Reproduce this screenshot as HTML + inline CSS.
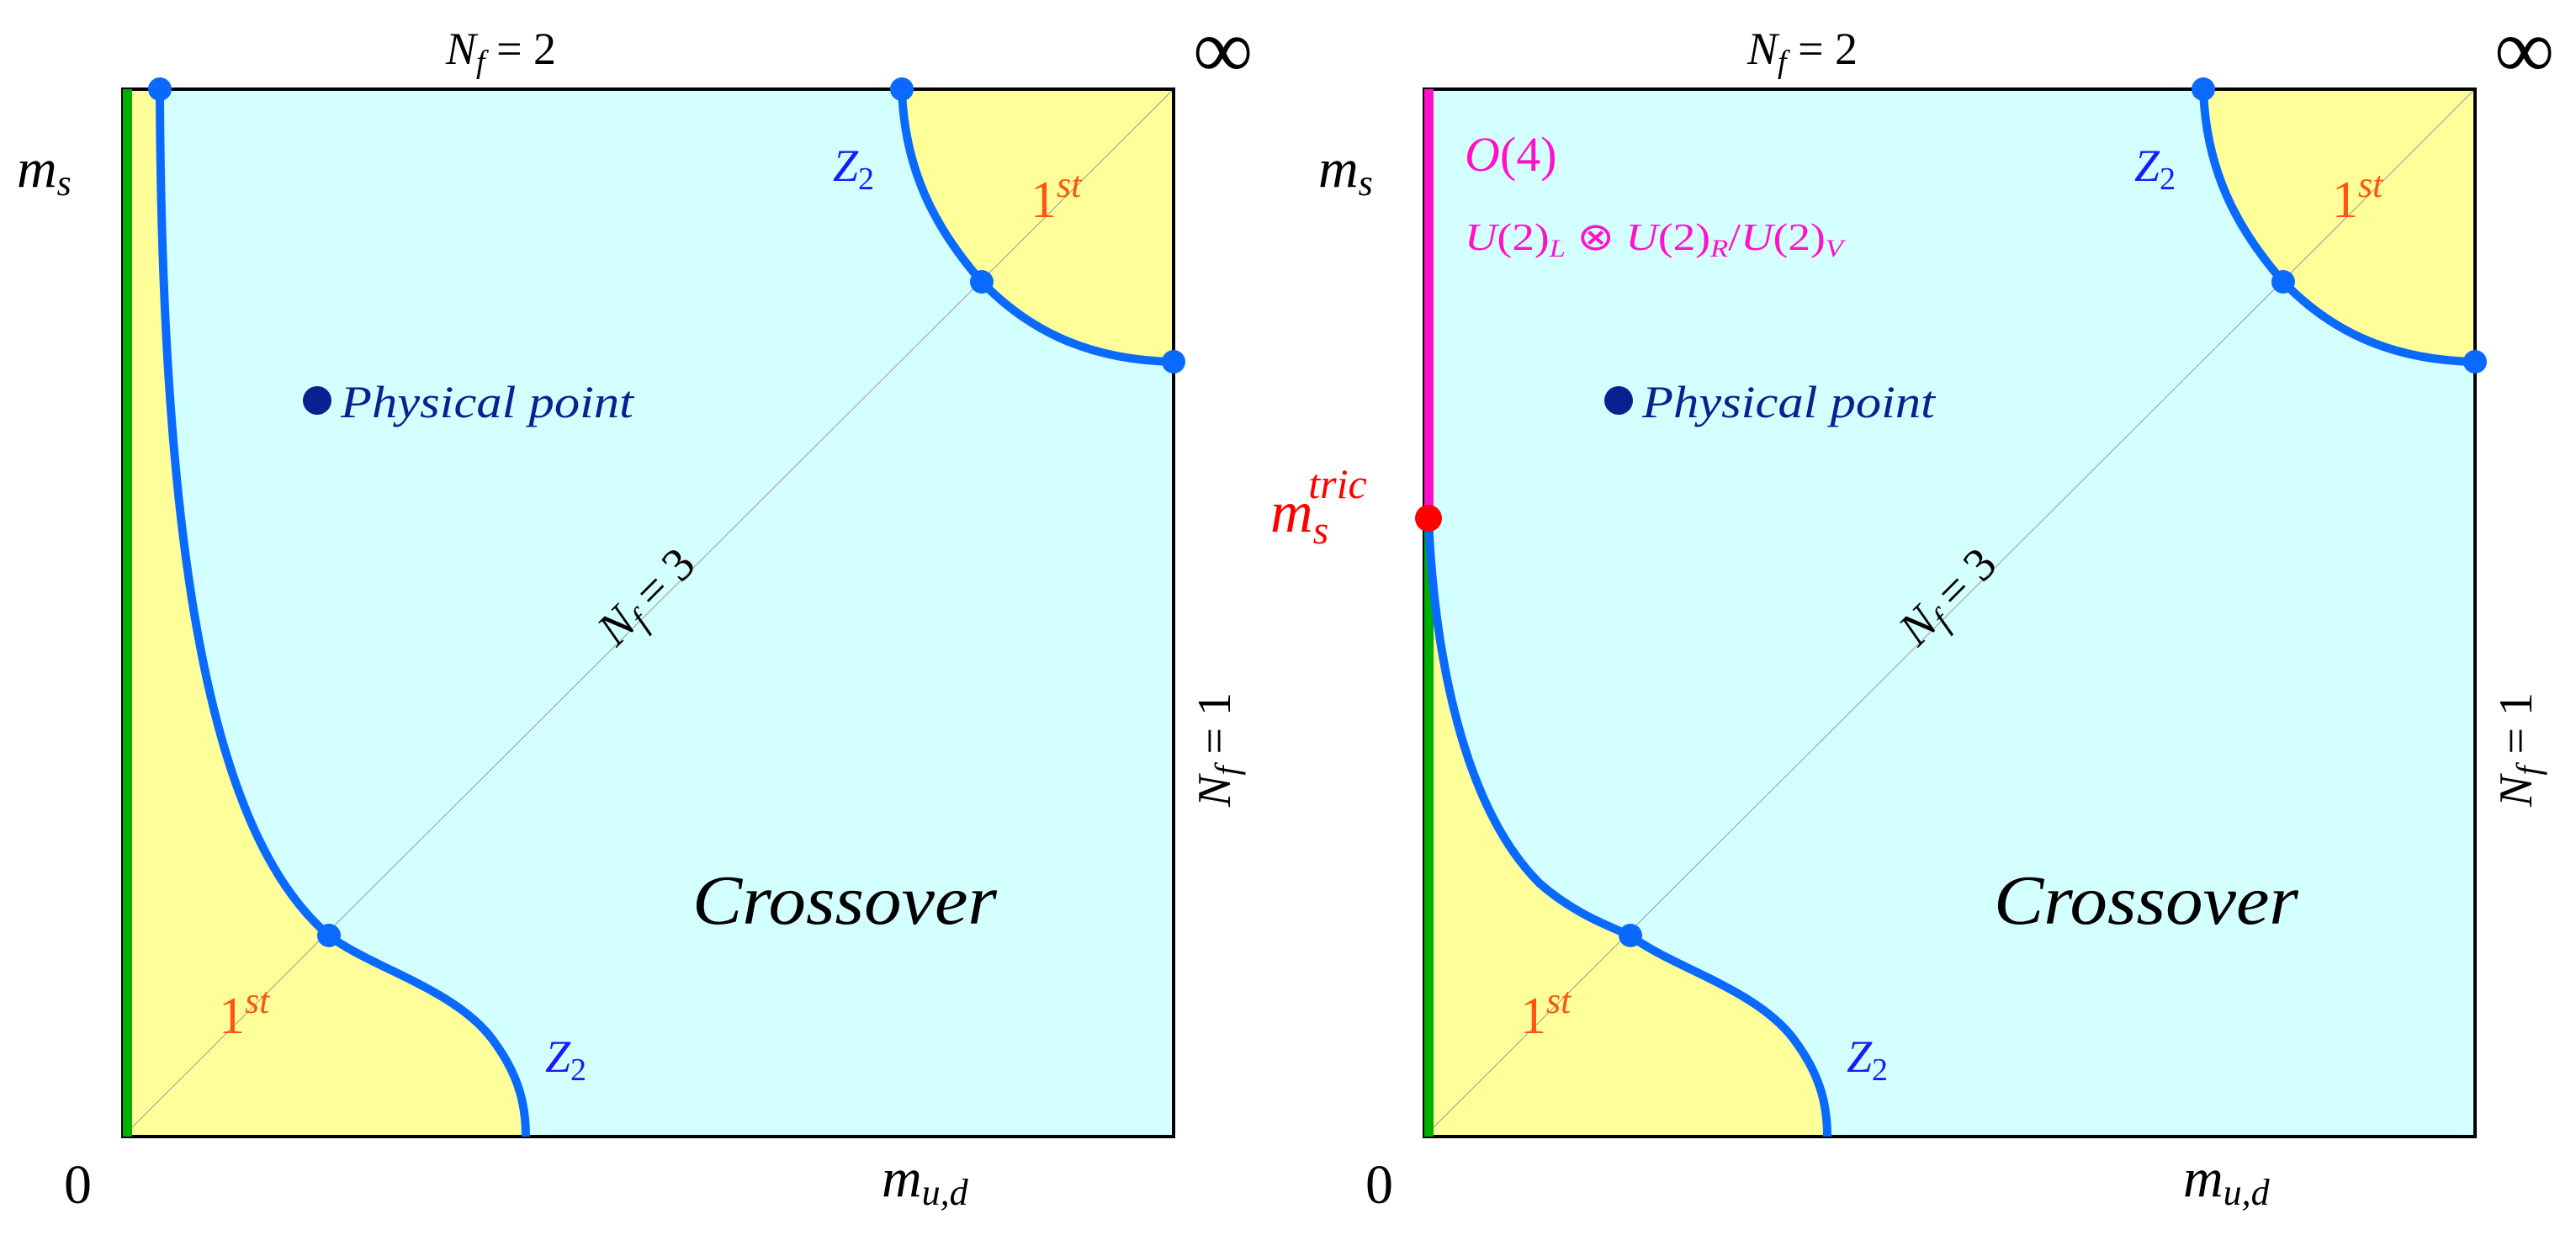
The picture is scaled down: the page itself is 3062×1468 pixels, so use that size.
<!DOCTYPE html>
<html><head><meta charset="utf-8"><style>
html,body{margin:0;padding:0;background:#fff;}
svg{display:block;}
text{font-family:"Liberation Serif",serif;font-style:italic;}
.up{font-style:normal;}
</style></head><body>
<svg width="3062" height="1468" viewBox="0 0 3062 1468" xmlns="http://www.w3.org/2000/svg">
<!-- LEFT PANEL -->
<g>
<rect x="146" y="106" width="1249" height="1245" fill="#d4ffff"/>
<path d="M146,106 L190,106 C192,700 260,1000 391,1112 C440,1150 540,1175 585,1235 C615,1275 625,1310 625,1351 L146,1351 Z" fill="#ffff99"/>
<path d="M1072,106 C1075,200 1110,270 1167,335 C1220,390 1290,428 1395,430 L1395,106 Z" fill="#ffff99"/>
<line x1="146" y1="1351" x2="1395" y2="106" stroke="#999" stroke-width="1"/>
<rect x="146" y="106" width="1249" height="1245" fill="none" stroke="#000" stroke-width="4"/>
<rect x="146" y="106" width="11" height="1245" fill="#00b000"/>
<path d="M190,106 C192,700 260,1000 391,1112 C440,1150 540,1175 585,1235 C615,1275 625,1310 625,1351" fill="none" stroke="#0a6aff" stroke-width="10"/>
<path d="M1072,106 C1075,200 1110,270 1167,335 C1220,390 1290,428 1395,430" fill="none" stroke="#0a6aff" stroke-width="10"/>
<g fill="#0a6aff"><circle cx="190" cy="106" r="14"/><circle cx="391" cy="1112" r="14"/><circle cx="1072" cy="106" r="14"/><circle cx="1167" cy="335" r="14"/><circle cx="1395" cy="430" r="14"/></g>
<circle cx="377" cy="476" r="17" fill="#0a2090"/>
<text x="405" y="496" font-size="54" fill="#0a2090" textLength="348" lengthAdjust="spacingAndGlyphs">Physical point</text>
<text x="530" y="76" font-size="54">N<tspan font-size="38" dy="10">f</tspan><tspan class="up" dy="-10"> = 2</tspan></text>
<text x="1418" y="92" font-size="100" class="up" font-family="DejaVu Serif">∞</text>
<text x="20" y="222" font-size="66">m<tspan font-size="44" dy="10">s</tspan></text>
<text x="76" y="1430" font-size="66" class="up">0</text>
<text x="1048" y="1422" font-size="66">m<tspan font-size="44" dy="10">u,d</tspan></text>
<text x="990" y="215" font-size="54" fill="#1a1aff">Z<tspan class="up" font-size="38" dy="10">2</tspan></text>
<text x="1225" y="258" font-size="62" class="up" fill="#ff5511">1<tspan font-style="italic" font-size="44" dy="-24">st</tspan></text>
<text x="260" y="1228" font-size="62" class="up" fill="#ff5511">1<tspan font-style="italic" font-size="44" dy="-24">st</tspan></text>
<text x="648" y="1274" font-size="54" fill="#1a1aff">Z<tspan class="up" font-size="38" dy="10">2</tspan></text>
<text x="823" y="1098" font-size="84" textLength="362" lengthAdjust="spacingAndGlyphs">Crossover</text>
<text transform="translate(781,722) rotate(-45)" x="0" y="0" font-size="56" text-anchor="middle">N<tspan font-size="40" dy="10">f</tspan><tspan class="up" dy="-10"> = 3</tspan></text>
<text transform="translate(1462,891) rotate(-90)" x="0" y="0" font-size="56" text-anchor="middle">N<tspan font-size="40" dy="10">f</tspan><tspan class="up" dy="-10"> = 1</tspan></text>
</g>
<!-- RIGHT PANEL -->
<g transform="translate(1547,0)">
<rect x="146" y="106" width="1249" height="1245" fill="#d4ffff"/>
<path d="M151,616 C158,780 193,960 283,1050 C323,1085 363,1100 391,1112 C440,1150 540,1175 585,1235 C615,1275 625,1310 625,1351 L146,1351 L146,616 Z" fill="#ffff99"/>
<path d="M1072,106 C1075,200 1110,270 1167,335 C1220,390 1290,428 1395,430 L1395,106 Z" fill="#ffff99"/>
<line x1="146" y1="1351" x2="1395" y2="106" stroke="#999" stroke-width="1"/>
<rect x="146" y="106" width="1249" height="1245" fill="none" stroke="#000" stroke-width="4"/>
<rect x="146" y="106" width="11" height="510" fill="#ff11cc"/>
<rect x="146" y="616" width="11" height="735" fill="#00b000"/>
<path d="M151,616 C158,780 193,960 283,1050 C323,1085 363,1100 391,1112 C440,1150 540,1175 585,1235 C615,1275 625,1310 625,1351" fill="none" stroke="#0a6aff" stroke-width="10"/>
<path d="M1072,106 C1075,200 1110,270 1167,335 C1220,390 1290,428 1395,430" fill="none" stroke="#0a6aff" stroke-width="10"/>
<g fill="#0a6aff"><circle cx="391" cy="1112" r="14"/><circle cx="1072" cy="106" r="14"/><circle cx="1167" cy="335" r="14"/><circle cx="1395" cy="430" r="14"/></g>
<circle cx="151" cy="616" r="16" fill="#ff0000"/>
<circle cx="377" cy="476" r="17" fill="#0a2090"/>
<text x="405" y="496" font-size="54" fill="#0a2090" textLength="348" lengthAdjust="spacingAndGlyphs">Physical point</text>
<text x="194" y="203" font-size="58" fill="#ff11cc">O<tspan class="up">(4)</tspan></text>
<text x="194" y="297" font-size="46" fill="#ff11cc" textLength="450" lengthAdjust="spacingAndGlyphs">U<tspan class="up">(2)</tspan><tspan font-size="30" dy="8">L</tspan><tspan class="up" dy="-8"> ⊗ </tspan>U<tspan class="up">(2)</tspan><tspan font-size="30" dy="8">R</tspan><tspan class="up" dy="-8">/</tspan>U<tspan class="up">(2)</tspan><tspan font-size="30" dy="8">V</tspan></text>
<text x="-37" y="632" font-size="70" fill="#ff0000">m<tspan font-size="48" dy="14">s</tspan><tspan font-size="50" dx="-24" dy="-54">tric</tspan></text>
<text x="530" y="76" font-size="54">N<tspan font-size="38" dy="10">f</tspan><tspan class="up" dy="-10"> = 2</tspan></text>
<text x="1418" y="92" font-size="100" class="up" font-family="DejaVu Serif">∞</text>
<text x="20" y="222" font-size="66">m<tspan font-size="44" dy="10">s</tspan></text>
<text x="76" y="1430" font-size="66" class="up">0</text>
<text x="1048" y="1422" font-size="66">m<tspan font-size="44" dy="10">u,d</tspan></text>
<text x="990" y="215" font-size="54" fill="#1a1aff">Z<tspan class="up" font-size="38" dy="10">2</tspan></text>
<text x="1225" y="258" font-size="62" class="up" fill="#ff5511">1<tspan font-style="italic" font-size="44" dy="-24">st</tspan></text>
<text x="260" y="1228" font-size="62" class="up" fill="#ff5511">1<tspan font-style="italic" font-size="44" dy="-24">st</tspan></text>
<text x="648" y="1274" font-size="54" fill="#1a1aff">Z<tspan class="up" font-size="38" dy="10">2</tspan></text>
<text x="823" y="1098" font-size="84" textLength="362" lengthAdjust="spacingAndGlyphs">Crossover</text>
<text transform="translate(781,722) rotate(-45)" x="0" y="0" font-size="56" text-anchor="middle">N<tspan font-size="40" dy="10">f</tspan><tspan class="up" dy="-10"> = 3</tspan></text>
<text transform="translate(1462,891) rotate(-90)" x="0" y="0" font-size="56" text-anchor="middle">N<tspan font-size="40" dy="10">f</tspan><tspan class="up" dy="-10"> = 1</tspan></text>
</g>
</svg>
</body></html>
